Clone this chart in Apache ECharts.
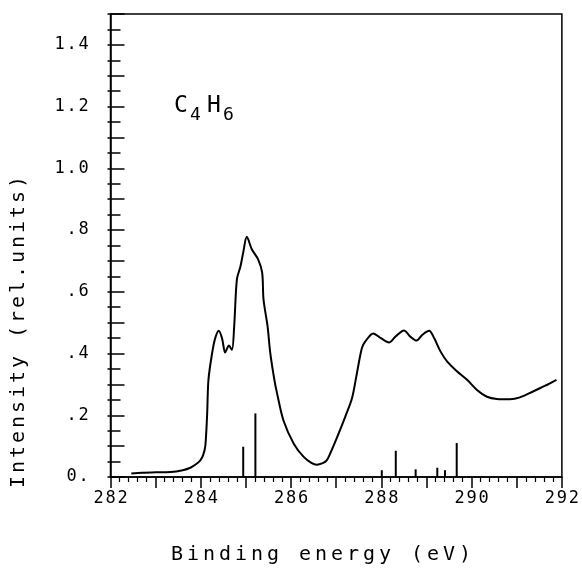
<!DOCTYPE html>
<html><head><meta charset="utf-8">
<script src="https://cdn.jsdelivr.net/npm/echarts@6/dist/echarts.min.js"></script>
<style>html,body{margin:0;padding:0;background:#fff}#c{width:582px;height:577px}</style>
</head><body><div id="c"></div>
<script>
// XPS C1s spectrum of C4H6
const energy = [282.46, 282.7, 283.0, 283.33, 283.6, 283.77, 283.9, 283.99, 284.05, 284.1, 284.14, 284.17,
  284.25, 284.32, 284.40, 284.47, 284.54, 284.58, 284.62, 284.69, 284.74, 284.80, 284.88, 284.94, 285.02,
  285.13, 285.27, 285.36, 285.39, 285.48, 285.54, 285.63, 285.69, 285.83, 286.06, 286.28, 286.45, 286.57,
  286.7, 286.79, 286.87, 287.01, 287.2, 287.35, 287.46, 287.57, 287.65, 287.82, 287.99, 288.17, 288.32,
  288.50, 288.65, 288.78, 288.91, 289.06, 289.17, 289.31, 289.46, 289.68, 289.90, 290.12, 290.34, 290.56,
  290.85, 291.07, 291.36, 291.62, 291.88];
const intensity = [0.011, 0.014, 0.015, 0.016, 0.022, 0.03, 0.042, 0.054, 0.07, 0.1, 0.2, 0.315,
  0.40, 0.45, 0.474, 0.45, 0.403, 0.415, 0.426, 0.412, 0.488, 0.64, 0.683, 0.727, 0.778,
  0.738, 0.705, 0.662, 0.575, 0.488, 0.401, 0.315, 0.271, 0.184, 0.108, 0.065, 0.046, 0.040,
  0.045, 0.054, 0.077, 0.125, 0.195, 0.255, 0.337, 0.418, 0.44, 0.465, 0.45, 0.436, 0.456,
  0.475, 0.454, 0.442, 0.461, 0.474, 0.45, 0.407, 0.374, 0.342, 0.315, 0.282, 0.26, 0.253,
  0.252, 0.258, 0.277, 0.295, 0.315];
const stickEnergy = [284.94, 285.21, 288.01, 288.32, 288.76, 289.24, 289.41, 289.67];
const stickHeight = [0.098, 0.206, 0.022, 0.085, 0.025, 0.030, 0.022, 0.110];
const yTickValues = [0, 0.2, 0.4, 0.6, 0.8, 1.0, 1.2, 1.4];
const yTickText = ['0.', '.2', '.4', '.6', '.8', '1.0', '1.2', '1.4'];
const xTickValues = [282, 284, 286, 288, 290, 292];

const MONO = '"DejaVu Sans Mono", "Liberation Mono", monospace';
function spaced(s, style) { return s.split('').map(ch => '{' + style + '|' + ch + '}').join(''); }

const curve = energy.map((e, i) => [e, intensity[i]]);
const sticks = stickEnergy.map((e, i) => [e, stickHeight[i]]);

const chart = echarts.init(document.getElementById('c'), null, {renderer: 'canvas'});
const tickRich = { t: { width: 12, align: 'center', fontFamily: MONO, fontSize: 17, color: '#000' } };
const titleRich = { b: { width: 16, align: 'center', fontFamily: MONO, fontSize: 20, color: '#000' } };
const titleRichY = { b: { width: 15, align: 'center', fontFamily: MONO, fontSize: 20, color: '#000' } };

chart.setOption({
  animation: false,
  backgroundColor: '#fff',
  grid: { left: 110.5, right: 19, top: 14, bottom: 100, show: true, borderColor: '#000', borderWidth: 1.5, backgroundColor: 'transparent' },
  xAxis: {
    type: 'value', min: 282, max: 292, interval: 1,
    axisLine: { lineStyle: { color: '#000', width: 1.5 } },
    axisTick: { show: true, inside: false, length: 11, lineStyle: { color: '#000', width: 1.5 } },
    minorTick: { show: true, splitNumber: 5, length: 5, lineStyle: { color: '#000', width: 1.2 } },
    splitLine: { show: false },
    axisLabel: {
      margin: 13, color: '#000',
      formatter: v => { const k = xTickValues.indexOf(Math.round(v)); return (k >= 0 && Math.abs(v - Math.round(v)) < 1e-6) ? spaced(String(xTickValues[k]), 't') : ''; },
      rich: tickRich
    }
  },
  yAxis: [{
    type: 'value', min: 0, max: 1.5, interval: 0.1,
    axisLine: { show: true, lineStyle: { color: '#000', width: 1.5 } },
    axisTick: { show: true, inside: true, length: 14, lineStyle: { color: '#000', width: 1.5 } },
    minorTick: { show: true, splitNumber: 2, length: 10, lineStyle: { color: '#000', width: 1.5 } },
    splitLine: { show: false },
    axisLabel: {
      margin: 21, color: '#000',
      formatter: v => { const k = yTickValues.findIndex(t => Math.abs(t - v) < 1e-6); return k >= 0 ? spaced(yTickText[k], 't') : ''; },
      rich: tickRich
    }
  }, {
    type: 'value', min: 0, max: 1.5, interval: 0.05, position: 'left',
    axisLine: { show: false },
    axisTick: { show: true, inside: false, length: 3, lineStyle: { color: '#000', width: 1.5 } },
    axisLabel: { show: false }, splitLine: { show: false }
  }],
  graphic: [
    { type: 'text', x: 321, y: 555, style: { text: spaced('Binding energy (eV)', 'b'), rich: titleRich, align: 'center', verticalAlign: 'middle' } },
    { type: 'text', x: 19, y: 332, rotation: Math.PI / 2, style: { text: spaced('Intensity (rel.units)', 'b'), rich: titleRichY, align: 'center', verticalAlign: 'middle' } },
    { type: 'text', x: 174, y: 118, style: { text: 'C', fontFamily: MONO, fontSize: 23, fill: '#000', verticalAlign: 'bottom' } },
    { type: 'text', x: 190, y: 124, style: { text: '4', fontFamily: MONO, fontSize: 18, fill: '#000', verticalAlign: 'bottom' } },
    { type: 'text', x: 207, y: 118, style: { text: 'H', fontFamily: MONO, fontSize: 23, fill: '#000', verticalAlign: 'bottom' } },
    { type: 'text', x: 223, y: 124, style: { text: '6', fontFamily: MONO, fontSize: 18, fill: '#000', verticalAlign: 'bottom' } }
  ],
  series: [{
    type: 'line', data: curve, xAxisIndex: 0, yAxisIndex: 0, smooth: 0.3, symbol: 'none',
    lineStyle: { color: '#000', width: 2 }
  }, {
    type: 'bar', data: sticks, xAxisIndex: 0, yAxisIndex: 0, barWidth: 2,
    itemStyle: { color: '#000' }
  }]
});
</script></body></html>
